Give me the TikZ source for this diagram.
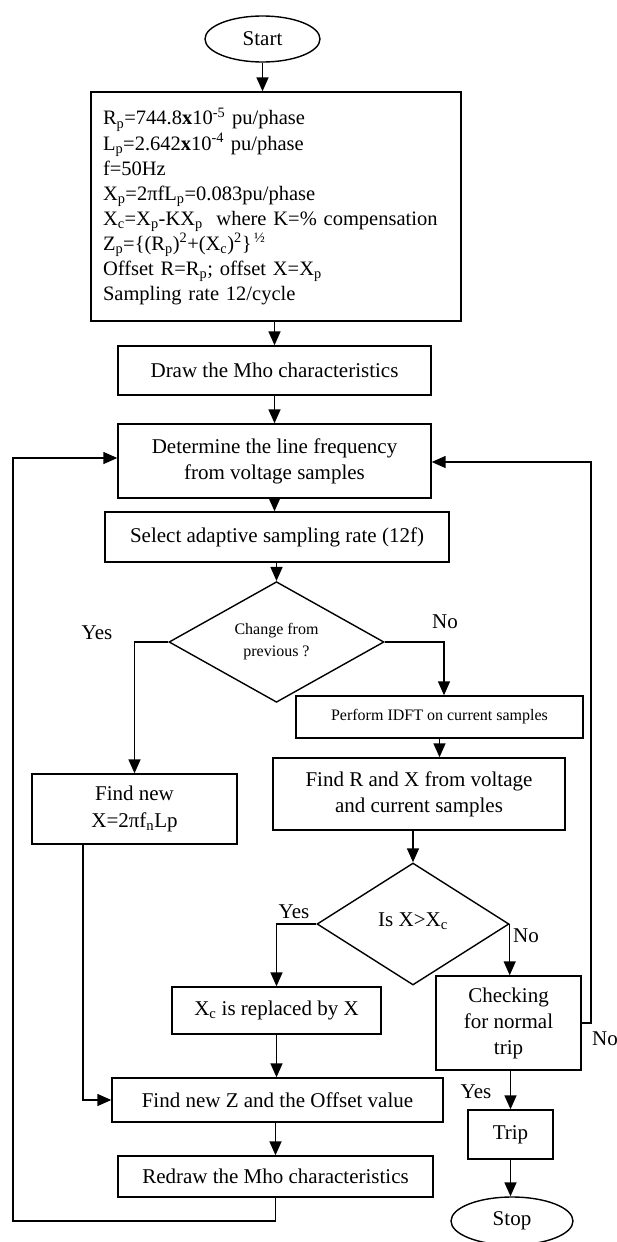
\documentclass[tikz,border=0pt]{standalone}
\usepackage{fontspec}
\setmainfont{Liberation Serif}
\usetikzlibrary{shapes.geometric,arrows.meta}
\begin{document}
\begin{tikzpicture}[x=1pt,y=-1pt,
  box/.style={draw, line width=1.4pt, rectangle, align=center, font=\fontsize{21}{26}\selectfont, inner sep=2pt},
  dec/.style={draw, line width=1.4pt, diamond, inner sep=0pt, align=center},
  term/.style={draw, line width=1.4pt, ellipse, inner sep=0pt, font=\fontsize{21}{26}\selectfont},
  lbl/.style={font=\fontsize{21}{26}\selectfont, inner sep=0pt},
  arr/.style={line width=1.5pt, -{Triangle[length=14pt,width=12pt]}}]
\useasboundingbox (0,0) rectangle (617,1242);

\node[term, minimum width=115pt, minimum height=46pt] (start) at (262.5,39) {Start};
\node[box, minimum width=370pt, minimum height=229pt, text width=346pt, align=left, inner xsep=12pt, font=\fontsize{20.5}{25.1}\selectfont] (params) at (276,206.5) {R\textsubscript{p}=744.8\textbf{x}10\textsuperscript{-5} pu/phase\\
L\textsubscript{p}=2.642\textbf{x}10\textsuperscript{-4} pu/phase\\
f=50Hz\\
X\textsubscript{p}=2πfL\textsubscript{p}=0.083pu/phase\\
X\textsubscript{c}=X\textsubscript{p}-KX\textsubscript{p}~ where K=\% compensation\\
Z\textsubscript{p}=\{(R\textsubscript{p})\textsuperscript{2}+(X\textsubscript{c})\textsuperscript{2}\}\textsuperscript{\,½}\\
Offset R=R\textsubscript{p}; offset X=X\textsubscript{p}\\
Sampling rate 12/cycle};
\node[box, minimum width=313pt, minimum height=49pt] (draw) at (274.5,370.5) {Draw the Mho characteristics};
\node[box, minimum width=313pt, minimum height=74pt] (freq) at (274.5,461) {Determine the line frequency\\from voltage samples};
\node[box, minimum width=344pt, minimum height=50pt] (rate) at (277,537) {Select adaptive sampling rate (12f)};
\node[dec, minimum width=215pt, minimum height=112pt, font=\fontsize{16}{22}\selectfont] (chg) at (276.5,642) {Change from\\previous ?};
\node[box, minimum width=205pt, minimum height=70pt, font=\fontsize{21}{27}\selectfont] (newx) at (134.5,809) {Find new\\X=2πf\textsubscript{n}Lp};
\node[box, minimum width=287pt, minimum height=42pt, font=\fontsize{16}{20}\selectfont] (idft) at (439.5,717) {Perform IDFT on current samples};
\node[box, minimum width=292pt, minimum height=72pt] (rx) at (419,794) {Find R and X from voltage\\and current samples};
\node[dec, minimum width=192pt, minimum height=122pt, font=\fontsize{21}{26}\selectfont] (cmp) at (413,924) {\raisebox{9pt}{Is X>X\textsubscript{c}}};
\node[box, minimum width=209pt, minimum height=47pt] (repl) at (276.5,1010.5) {X\textsubscript{c} is replaced by X};
\node[box, minimum width=331pt, minimum height=44pt] (newz) at (277.5,1100) {Find new Z and the Offset value};
\node[box, minimum width=315pt, minimum height=41pt] (redraw) at (275.5,1176.5) {Redraw the Mho characteristics};
\node[box, minimum width=145pt, minimum height=94pt] (check) at (508.5,1023) {Checking\\for normal\\trip};
\node[box, minimum width=85pt, minimum height=49pt] (trip) at (510.5,1134.5) {Trip};
\node[term, minimum width=122pt, minimum height=48pt] (stop) at (512,1221) {Stop};

\node[lbl] (yes1) at (97,633) {Yes};
\node[lbl] (no1) at (445,622) {No};
\node[lbl] (yes2) at (294,912) {Yes};
\node[lbl] (no2) at (526,936) {No};
\node[lbl] (yes3) at (476,1092) {Yes};
\node[lbl] (no3) at (605,1039) {No};

\coordinate (bl) at (13,1221);
\coordinate (rloop) at (591,462);

\draw[arr] (start.south) -- (start.south |- params.north);
\draw[arr] (params.south -| draw.north) -- (draw.north);
\draw[arr] (draw) -- (freq);
\draw[arr] (freq.south) -- (freq.south |- rate.north);
\draw[arr] (rate.south -| chg.north) -- (chg.north);
\draw[arr] (chg.west) -| (newx.north);
\draw[arr] (chg.east) -| ([xshift=4.5pt]idft.north);
\draw[arr] (idft.south) -- (idft.south |- rx.north);
\draw[arr] (rx.south -| cmp.north) -- (cmp.north);
\draw[arr] (cmp.west) -| (repl.north);
\draw[arr] (cmp.east) -- (cmp.east |- check.north);
\draw[arr] (repl.south) -- (repl.south |- newz.north);
\draw[arr] ([xshift=-51.5pt]newx.south) |- (newz.west);
\draw[arr] (newz.south -| redraw.north) -- (redraw.north);
\draw[arr] (redraw.south) |- (bl) |- ([yshift=3pt]freq.west);
\draw[arr] (check.east) -| (rloop) -- ([yshift=-1pt]freq.east);
\draw[arr] (trip.north |- check.south) -- (trip.north);
\draw[arr] (trip.south) -- (trip.south |- stop.north);
\end{tikzpicture}
\end{document}
